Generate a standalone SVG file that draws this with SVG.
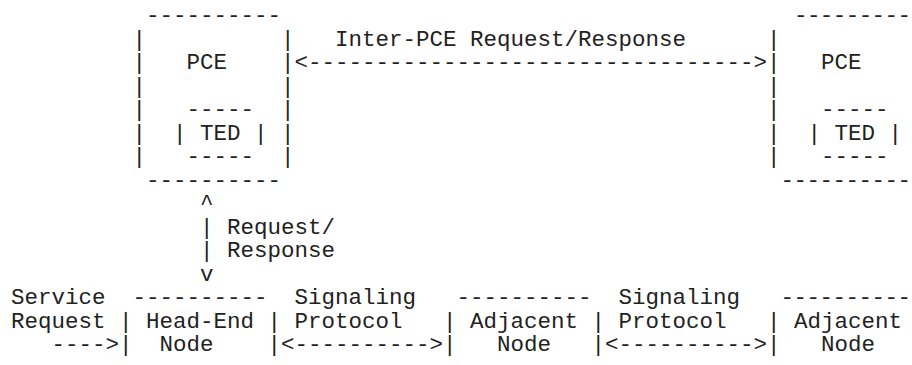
<svg xmlns="http://www.w3.org/2000/svg" width="912" height="365" viewBox="0 0 912 365">
  <style>
    text { font-family: "Liberation Mono", "Courier New", monospace; font-size: 22.5px; fill: #222; white-space: pre; }
  </style>
  <rect width="912" height="365" fill="#ffffff"/>

  <!-- Character grid: column c at x = 11 + 13.5*c, row r baseline at y = 22 + 23.5*r -->

  <!-- Path Computation Element (left) -->
  <g id="pce-1">
    <text x="146" y="22">----------</text>
    <text x="132.5" y="45.5">|</text><text x="281" y="45.5">|</text>
    <text x="132.5" y="69">|</text><text x="186.5" y="69">PCE</text><text x="281" y="69">|</text>
    <text x="132.5" y="92.5">|</text><text x="281" y="92.5">|</text>
    <text x="132.5" y="116">|</text><text x="281" y="116">|</text>
    <text x="132.5" y="139.5">|</text><text x="281" y="139.5">|</text>
    <text x="132.5" y="163">|</text><text x="281" y="163">|</text>
    <text x="146" y="186.5">----------</text>
    <g id="ted-1">
      <text x="186.5" y="116">-----</text>
      <text x="173" y="139.5">|</text><text x="200" y="139.5">TED</text><text x="254" y="139.5">|</text>
      <text x="186.5" y="163">-----</text>
    </g>
  </g>

  <!-- Path Computation Element (right); its outline runs on past the right edge -->
  <g id="pce-2">
    <text x="794" y="22" textLength="117" lengthAdjust="spacing">---------</text>
    <text x="767" y="45.5">|</text>
    <text x="767" y="69">|</text><text x="821" y="69">PCE</text>
    <text x="767" y="92.5">|</text>
    <text x="767" y="116">|</text>
    <text x="767" y="139.5">|</text>
    <text x="767" y="163">|</text>
    <text x="780.5" y="186.5" textLength="130.5" lengthAdjust="spacing">----------</text>
    <g id="ted-2">
      <text x="821" y="116">-----</text>
      <text x="807.5" y="139.5">|</text><text x="834.5" y="139.5">TED</text><text x="888.5" y="139.5">|</text>
      <text x="821" y="163">-----</text>
    </g>
  </g>

  <!-- Head-End node -->
  <g id="head-end">
    <text x="132.5" y="304">----------</text>
    <text x="119" y="327.5">|</text><text x="146" y="327.5">Head-End</text><text x="267.5" y="327.5">|</text>
    <text x="119" y="351">|</text><text x="159.5" y="351">Node</text><text x="267.5" y="351">|</text>
  </g>

  <!-- Adjacent node 1 -->
  <g id="adjacent-1">
    <text x="456.5" y="304">----------</text>
    <text x="443" y="327.5">|</text><text x="470" y="327.5">Adjacent</text><text x="591.5" y="327.5">|</text>
    <text x="443" y="351">|</text><text x="497" y="351">Node</text><text x="591.5" y="351">|</text>
  </g>

  <!-- Adjacent node 2 -->
  <g id="adjacent-2">
    <text x="780.5" y="304" textLength="130.5" lengthAdjust="spacing">----------</text>
    <text x="767" y="327.5">|</text><text x="794" y="327.5">Adjacent</text>
    <text x="767" y="351">|</text><text x="821" y="351">Node</text>
  </g>

  <!-- Connectors and their labels -->
  <g id="connectors">
    <!-- PCE to PCE -->
    <text x="335" y="45.5">Inter-PCE Request/Response</text>
    <text x="294.5" y="69">&lt;---------------------------------&gt;</text>

    <!-- Head-end to PCE -->
    <text x="200" y="210">^</text>
    <text x="200" y="233.5">|</text><text x="227" y="233.5">Request/</text>
    <text x="200" y="257">|</text><text x="227" y="257">Response</text>
    <text x="200" y="280.5">v</text>

    <!-- Incoming service request -->
    <text x="11" y="304">Service</text>
    <text x="11" y="327.5">Request</text>
    <text x="51.5" y="351">----&gt;</text>

    <!-- Signaling between nodes -->
    <text x="294.5" y="304">Signaling</text>
    <text x="294.5" y="327.5">Protocol</text>
    <text x="281" y="351">&lt;----------&gt;</text>

    <text x="618.5" y="304">Signaling</text>
    <text x="618.5" y="327.5">Protocol</text>
    <text x="605" y="351">&lt;----------&gt;</text>
  </g>
</svg>
